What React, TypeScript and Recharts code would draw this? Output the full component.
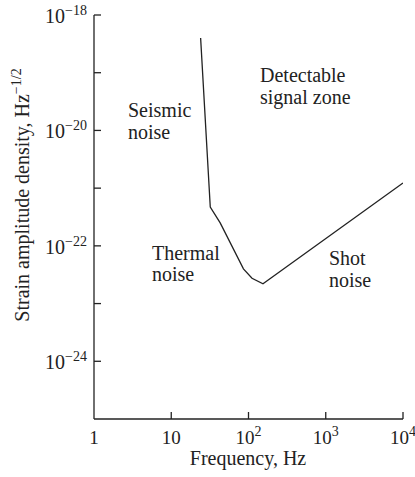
import { LineChart, Line, XAxis, YAxis, Customized } from "recharts"

document.body.style.margin = "0"

// detector noise curve
export const freq = [24, 32, 43, 86, 111, 154, 10000]
export const strain = [4e-19, 4.7e-22, 2.5e-22, 4e-23, 2.75e-23, 2.2e-23, 1.23e-21]

const xTicks = [1, 10, 100, 1000, 10000]
const yTicks = [1e-18, 1e-19, 1e-20, 1e-21, 1e-22, 1e-23, 1e-24]

const data = freq.map((f, i) => ({ f, h: strain[i] }))

const INK = "#222"
const FONT = "'Liberation Serif', 'Times New Roman', serif"

function XTick({ x, y, payload }: any) {
  const e = Math.round(Math.log10(payload.value))
  return (
    <g>
      {e > 0 && <line x1={x} y1={y} x2={x} y2={y - 7} stroke={INK} strokeWidth={1.3} />}
      <text x={x} y={y + 25} textAnchor="middle" fontFamily={FONT} fontSize={19} fill={INK}>
        {e === 0 ? "1" : e === 1 ? "10" : (
          <>
            10<tspan dy={-8} fontSize={14}>{e}</tspan>
          </>
        )}
      </text>
    </g>
  )
}

function YTick({ x, y, payload }: any) {
  const e = Math.round(Math.log10(payload.value))
  return (
    <g>
      <line x1={x} y1={y} x2={x + 7} y2={y} stroke={INK} strokeWidth={1.3} />
      {e % 2 === 0 && (
        <text x={x - 7} y={y + 8} textAnchor="end" fontFamily={FONT} fontSize={20} fill={INK}>
          10<tspan dy={-8} fontSize={14}>{"\u2212" + Math.abs(e)}</tspan>
        </text>
      )}
    </g>
  )
}

function Notes() {
  const t = { fontFamily: FONT, fontSize: 20, fill: INK }
  return (
    <g>
      <text x={260} y={82} {...t}>Detectable</text>
      <text x={260} y={104} {...t}>signal zone</text>
      <text x={128} y={117} {...t}>Seismic</text>
      <text x={128} y={139} {...t}>noise</text>
      <text x={152} y={260} {...t}>Thermal</text>
      <text x={152} y={281} {...t}>noise</text>
      <text x={329} y={265} {...t}>Shot</text>
      <text x={329} y={287} {...t}>noise</text>
      <text x={248} y={465} textAnchor="middle" {...t}>Frequency, Hz</text>
      <text x={0} y={0} textAnchor="middle" transform="translate(29,195) rotate(-90)" {...t}>
        Strain amplitude density, Hz<tspan dy={-8} fontSize={14}>{"\u22121/2"}</tspan>
      </text>
    </g>
  )
}

export default function App() {
  return (
    <LineChart width={415} height={477} data={data} margin={{ top: 15, right: 12, bottom: 28, left: 34 }}>
      <XAxis
        dataKey="f"
        type="number"
        scale="log"
        domain={[1, 10000]}
        ticks={xTicks}
        interval={0}
        height={30}
        tickSize={0}
        tickMargin={0}
        tickLine={false}
        axisLine={{ stroke: INK, strokeWidth: 1.3 }}
        tick={(p: any) => <XTick {...p} />}
        allowDataOverflow
      />
      <YAxis
        type="number"
        scale="log"
        domain={[1e-25, 1e-18]}
        ticks={yTicks}
        interval={0}
        width={60}
        tickSize={0}
        tickMargin={0}
        tickLine={false}
        axisLine={{ stroke: INK, strokeWidth: 1.3 }}
        tick={(p: any) => <YTick {...p} />}
        allowDataOverflow
      />
      <Line dataKey="h" type="linear" stroke={INK} strokeWidth={1.3} dot={false} isAnimationActive={false} />
      <Customized component={Notes} />
    </LineChart>
  )
}
